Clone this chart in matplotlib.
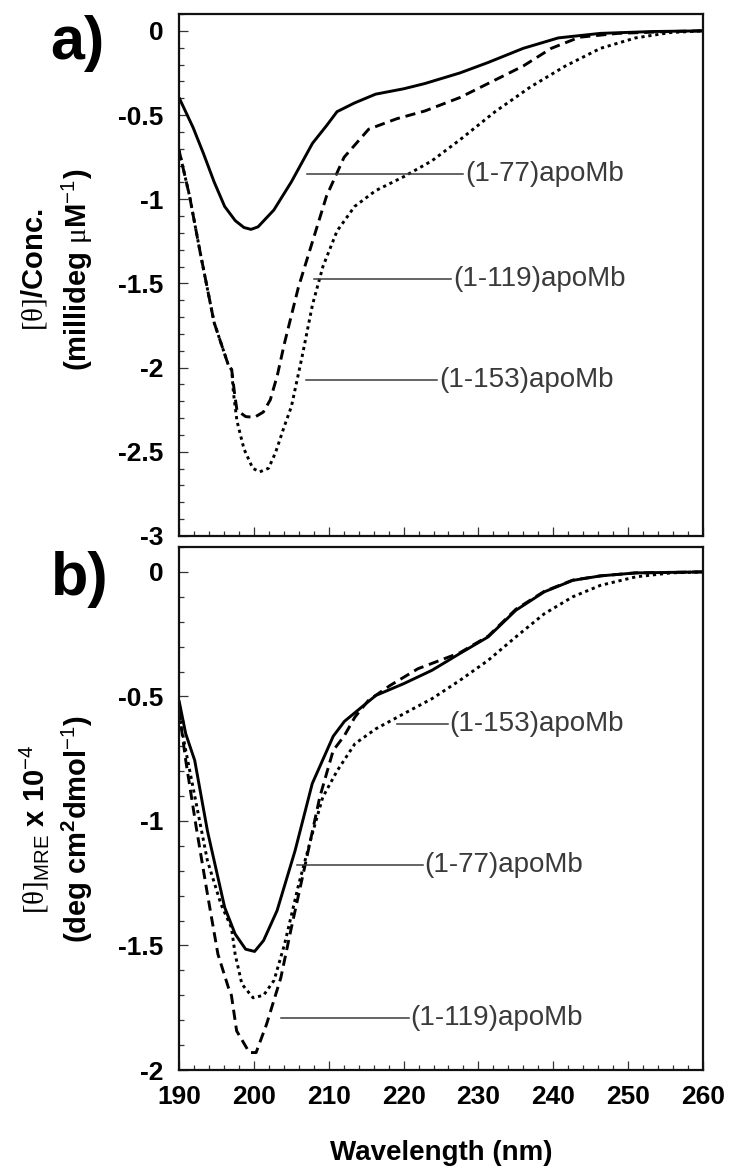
import matplotlib
matplotlib.use("Agg")
import matplotlib.pyplot as plt
from matplotlib.ticker import MultipleLocator, FuncFormatter

plt.rcParams['font.family'] = ['Liberation Sans', 'DejaVu Sans']
plt.rcParams['mathtext.fontset'] = 'custom'
plt.rcParams['mathtext.rm'] = 'Liberation Serif'
plt.rcParams['mathtext.sf'] = 'Liberation Sans'
plt.rcParams['mathtext.bf'] = 'Liberation Sans:bold'
plt.rcParams['mathtext.it'] = 'Liberation Sans:italic'

# ---------------- data: panel a ----------------
a77_wl = [190.0, 191.88, 193.28, 194.69, 196.10, 197.51, 198.68, 199.62, 200.56, 202.67,
          205.01, 207.83, 209.71, 211.11, 213.46, 216.27, 220.03, 222.84, 227.53, 231.29,
          235.98, 240.67, 246.30, 253.34, 260.0]
a77_val = [-0.396, -0.574, -0.730, -0.897, -1.043, -1.127, -1.168, -1.179, -1.164, -1.064,
           -0.897, -0.668, -0.563, -0.480, -0.428, -0.376, -0.344, -0.313, -0.250, -0.188,
           -0.104, -0.042, -0.015, -0.004, 0.0]

a119_wl = [190.0, 191.41, 192.82, 194.69, 195.63, 196.57, 197.04, 197.41, 197.74, 198.91,
           200.09, 201.26, 202.20, 203.14, 204.08, 205.95, 207.83, 209.71, 212.05, 215.34,
           219.09, 222.84, 227.53, 232.23, 235.98, 239.73, 243.49, 248.65, 255.68, 260.0]
a119_val = [-0.709, -0.981, -1.314, -1.732, -1.857, -1.982, -2.013, -2.149, -2.253, -2.291,
            -2.295, -2.264, -2.191, -2.045, -1.857, -1.523, -1.252, -0.981, -0.751, -0.584,
            -0.522, -0.476, -0.396, -0.292, -0.209, -0.104, -0.038, -0.015, -0.004, 0.0]

a153_wl = [190.0, 191.41, 192.82, 194.69, 195.63, 196.57, 197.04, 197.27, 197.74, 198.68,
           199.85, 200.79, 201.96, 202.90, 204.08, 205.01, 206.42, 207.83, 209.24, 211.11,
           213.46, 216.27, 220.03, 223.78, 227.53, 232.23, 236.92, 241.61, 246.30, 250.99,
           255.68, 260.0]
a153_val = [-0.709, -0.981, -1.314, -1.732, -1.857, -1.982, -2.013, -2.149, -2.316, -2.483,
            -2.598, -2.619, -2.598, -2.504, -2.347, -2.232, -1.940, -1.627, -1.398, -1.189,
            -1.043, -0.949, -0.866, -0.772, -0.647, -0.480, -0.334, -0.209, -0.104, -0.042,
            -0.010, 0.0]

# ---------------- data: panel b ----------------
b77_wl = [190.0, 190.9, 192.1, 193.8, 196.1, 197.5, 198.9, 200.1, 201.3, 203.1,
          205.5, 207.8, 210.6, 212.1, 214.4, 216.3, 220.0, 223.8, 227.5, 231.3,
          235.0, 238.8, 242.6, 246.3, 251.0, 260.0]
b77_val = [-0.516, -0.650, -0.757, -1.040, -1.347, -1.454, -1.515, -1.524, -1.480, -1.360,
           -1.120, -0.850, -0.660, -0.600, -0.543, -0.496, -0.449, -0.395, -0.328, -0.261,
           -0.154, -0.080, -0.034, -0.016, -0.004, 0.0]

b119_wl = [190.0, 190.9, 192.3, 193.8, 195.2, 196.6, 197.0, 197.7, 199.4, 200.3,
           201.7, 203.6, 205.0, 206.9, 208.8, 210.6, 212.1, 213.5, 215.3, 218.2,
           221.9, 227.5, 231.3, 235.0, 238.8, 242.6, 246.3, 251.0, 260.0]
b119_val = [-0.556, -0.757, -1.025, -1.294, -1.535, -1.669, -1.700, -1.843, -1.930, -1.930,
            -1.816, -1.630, -1.430, -1.170, -0.905, -0.717, -0.657, -0.583, -0.516, -0.456,
            -0.389, -0.325, -0.258, -0.150, -0.078, -0.033, -0.016, -0.004, 0.0]

b153_wl = [190.0, 190.9, 192.3, 193.8, 195.6, 197.0, 197.5, 198.4, 199.9, 201.3,
           202.7, 204.1, 206.0, 207.8, 209.2, 211.1, 213.5, 216.3, 220.0, 223.8,
           227.5, 231.3, 235.0, 238.8, 242.6, 246.3, 251.0, 255.7, 260.0]
b153_val = [-0.570, -0.717, -0.930, -1.160, -1.334, -1.428, -1.535, -1.655, -1.710, -1.700,
            -1.640, -1.495, -1.253, -1.052, -0.905, -0.800, -0.690, -0.630, -0.570, -0.509,
            -0.436, -0.355, -0.261, -0.168, -0.100, -0.054, -0.020, -0.004, 0.0]

# annotation labels: (name, line start wl, line end wl, y value)
a_labels = ["(1-77)apoMb", "(1-119)apoMb", "(1-153)apoMb"]
a_lab_x0 = [207.1, 208.1, 206.9]
a_lab_x1 = [228.0, 226.4, 224.5]
a_lab_y = [-0.849, -1.475, -2.072]

b_labels = ["(1-153)apoMb", "(1-77)apoMb", "(1-119)apoMb"]
b_lab_x0 = [219.1, 205.7, 203.6]
b_lab_x1 = [225.9, 222.6, 220.7]
b_lab_y = [-0.61, -1.177, -1.79]

# ---------------- figure ----------------
W, H = 730, 1174
fig = plt.figure(figsize=(W / 100, H / 100), dpi=100)

def px_axes(l, t, r, b):
    return fig.add_axes([l / W, 1 - b / H, (r - l) / W, (b - t) / H])

axA = px_axes(179, 14, 703, 536)
axB = px_axes(179, 547, 703, 1070)

LW = 2.1
solid = dict(color='black', lw=LW, solid_capstyle='butt', solid_joinstyle='round')
dashed = dict(color='black', lw=LW, dashes=(3.5, 2.0))
dotted = dict(color='black', lw=LW, dashes=(1.1, 1.3))

axA.plot(a77_wl, a77_val, **solid)
axA.plot(a119_wl, a119_val, **dashed)
axA.plot(a153_wl, a153_val, **dotted)

axB.plot(b77_wl, b77_val, **solid)
axB.plot(b119_wl, b119_val, **dashed)
axB.plot(b153_wl, b153_val, **dotted)

ann_color = '#3a3a3a'
for ax, names, x0s, x1s, ys in [(axA, a_labels, a_lab_x0, a_lab_x1, a_lab_y),
                                (axB, b_labels, b_lab_x0, b_lab_x1, b_lab_y)]:
    for n, x0, x1, y in zip(names, x0s, x1s, ys):
        ax.plot([x0, x1], [y, y], color=ann_color, lw=1.1)
        ax.text(x1 + 0.2, y, n, ha='left', va='center', fontsize=20,
                color=ann_color)

fmt = FuncFormatter(lambda v, p: ('%g' % round(v, 2)))
for ax, ylo in [(axA, -3.0), (axB, -2.0)]:
    ax.set_xlim(190, 260)
    ax.set_ylim(ylo, 0.1)
    ax.xaxis.set_major_locator(MultipleLocator(10))
    ax.xaxis.set_minor_locator(MultipleLocator(2))
    ax.yaxis.set_major_locator(MultipleLocator(0.5))
    ax.yaxis.set_minor_locator(MultipleLocator(0.1))
    ax.yaxis.set_major_formatter(fmt)
    ax.xaxis.set_major_formatter(FuncFormatter(lambda v, p: '%d' % v))
    ax.tick_params(which='both', direction='in', top=False, right=False,
                   color='#333333', width=0.9)
    ax.tick_params(which='major', length=6.5)
    ax.tick_params(which='minor', length=3.5)
    ax.tick_params(axis='y', which='major', pad=11, labelsize=19)
    ax.tick_params(axis='x', which='major', pad=11, labelsize=19)
    for lab in ax.get_yticklabels() + ax.get_xticklabels():
        lab.set_fontweight('bold')
    for s in ax.spines.values():
        s.set_linewidth(1.6)
        s.set_color('#111111')

axA.tick_params(axis='x', labelbottom=False)

axB.set_xlabel('Wavelength (nm)', fontsize=20, fontweight='bold', labelpad=22)

# y-axis labels (two lines each)
def ftext(x, y, s, **kw):
    fig.text(x / W, 1 - y / H, s, **kw)

yl = dict(rotation=90, ha='center', va='center', fontsize=21)
ftext(34, 270, r"$\mathrm{[\theta]}\mathbf{/Conc.}$", **yl)
ftext(77, 270, r"$\mathbf{(millideg\ }\mathrm{\mu}\mathbf{M}^{\mathsf{-1}}\mathbf{)}$", **yl)
ftext(34, 829, r"$\mathrm{[\theta]}_{\mathsf{MRE}}\mathbf{\ x\ 10}^{\mathsf{-4}}$", **yl)
ftext(77, 829, r"$\mathbf{(deg\ cm}^{\mathbf{2}}\mathbf{dmol}^{\mathsf{-1}}\mathbf{)}$", **yl)

# panel letters
ftext(77, 43, 'a)', ha='center', va='center', fontsize=44, fontweight='bold')
ftext(80, 579, 'b)', ha='center', va='center', fontsize=44, fontweight='bold')

fig.savefig('out.png', dpi=100)
